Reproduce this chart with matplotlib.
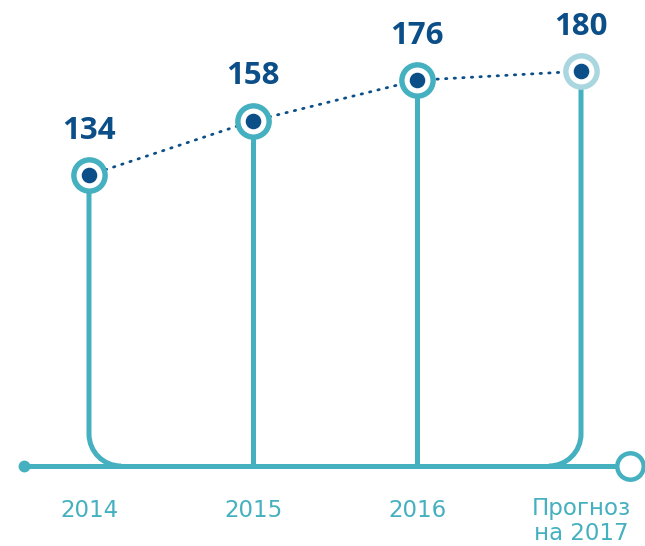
import matplotlib
matplotlib.use("Agg")
import matplotlib.pyplot as plt
import numpy as np
from matplotlib.path import Path
from matplotlib.patches import PathPatch

# Data
categories = ["2014", "2015", "2016", "Прогноз\nна 2017"]
values = [134, 158, 176, 180]

TEAL = "#45b0bf"
LIGHT = "#a9d6df"
NAVY = "#0b4e88"

W, H, DPI = 645, 546, 100
fig = plt.figure(figsize=(W / DPI, H / DPI), dpi=DPI)
ax = fig.add_axes([0, 0, 1, 1])

# Scale: category spacing and value-to-pixel mapping
px_per_x = 164.0
x0_px = 89.0
px_per_v = 2.26
v0_px = 478.0  # pixel row (from top) where value 0 would sit
ax.set_xlim(-x0_px / px_per_x, (W - x0_px) / px_per_x)
ax.set_ylim((v0_px - H) / px_per_v, v0_px / px_per_v)
ax.axis("off")

base = (v0_px - 466) / px_per_v  # baseline level
x = np.arange(len(values))
lw = 3.6

# Baseline with endpoints
left_x = (24 - x0_px) / px_per_x
right_x = (630 - x0_px) / px_per_x
end_x = (616 - x0_px) / px_per_x
ax.plot([left_x, end_x], [base, base], color=TEAL, lw=lw, solid_capstyle="butt", zorder=2)
ax.plot([left_x], [base], "o", color=TEAL, ms=7.5, zorder=3)
ax.plot([right_x], [base], "o", mfc="white", mec=TEAL, mew=3.2, ms=19, zorder=3)

# Stems; outer ones bend into the baseline with rounded corners
r_px = 32
rx = r_px / px_per_x
ry = r_px / px_per_v
k = 0.5523
for i, v in enumerate(values):
    if i == 0 or i == len(values) - 1:
        d = 1 if i == 0 else -1
        verts = [(x[i], v), (x[i], base + ry),
                 (x[i], base + ry * (1 - k)), (x[i] + d * rx * (1 - k), base), (x[i] + d * rx, base)]
        codes = [Path.MOVETO, Path.LINETO, Path.CURVE4, Path.CURVE4, Path.CURVE4]
        ax.add_patch(PathPatch(Path(verts, codes), fill=False, ec=TEAL, lw=lw, zorder=2))
    else:
        ax.plot([x[i], x[i]], [base, v], color=TEAL, lw=lw, solid_capstyle="butt", zorder=2)

# Dotted trend between points
ax.plot(x, values, color=NAVY, lw=2, linestyle=(0, (0.5, 2.6)), dash_capstyle="round", zorder=3)

# Point markers: ring + filled centre
for i, v in enumerate(values):
    ring = LIGHT if i == len(values) - 1 else TEAL
    ax.plot([x[i]], [v], "o", mfc="white", mec=ring, mew=3.9, ms=22.5, zorder=4)
    ax.plot([x[i]], [v], "o", color=NAVY, ms=10.2, zorder=5)
    ax.annotate(str(v), (x[i], v), xytext=(0, 32), textcoords="offset points",
                ha="center", va="center", fontsize=22.5, fontweight="bold",
                color=NAVY, family="Open Sans")

# Category labels under the baseline
for i, c in enumerate(categories):
    off = -39.5 if "\n" in c else -32
    ax.annotate(c, (x[i], base), xytext=(0, off), textcoords="offset points",
                ha="center", va="center", fontsize=16.5, color=TEAL,
                family="DejaVu Sans", linespacing=1.15)

fig.savefig("out.png", dpi=DPI)
